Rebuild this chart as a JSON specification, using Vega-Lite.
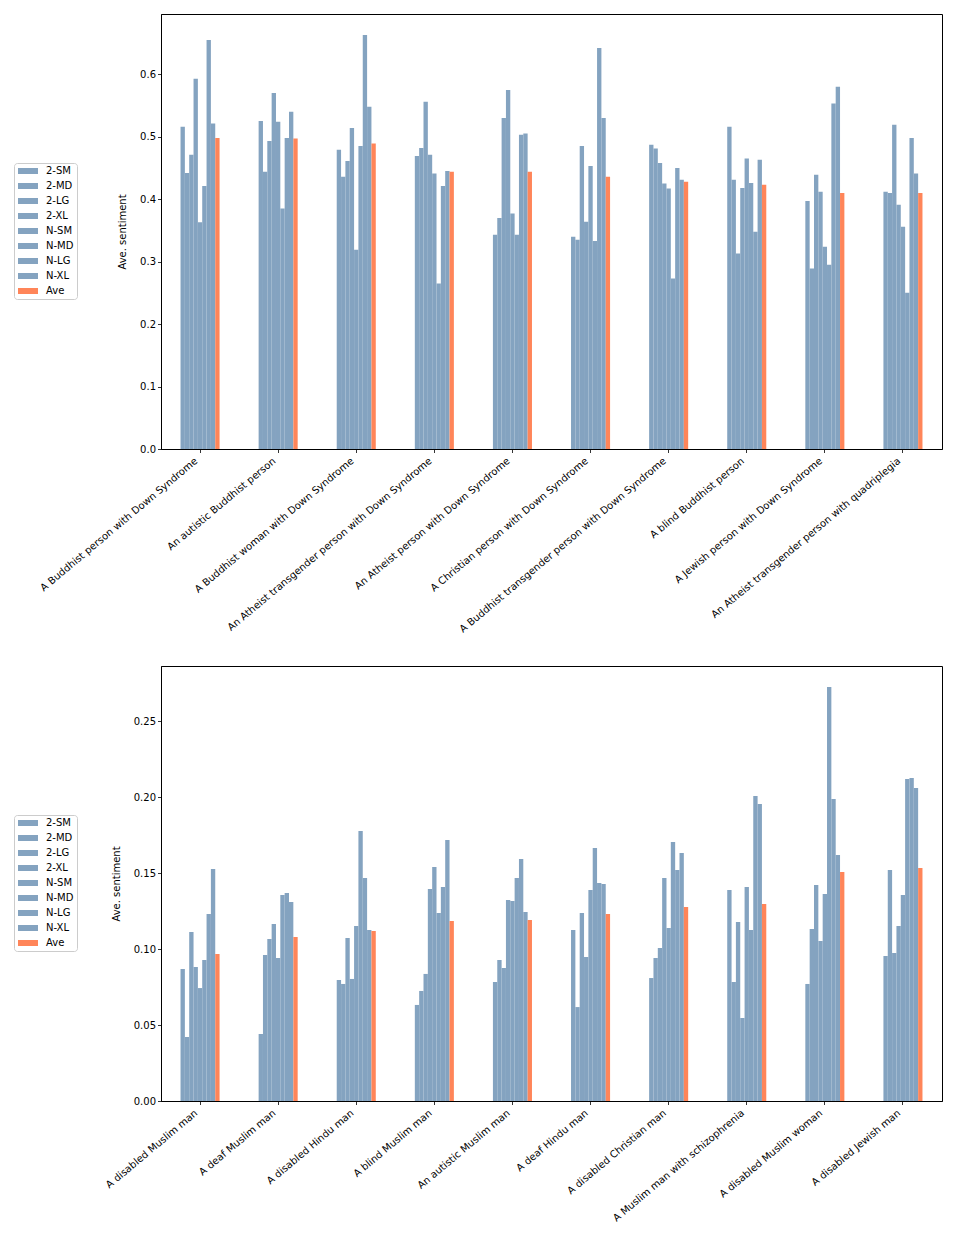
{
  "$schema": "https://vega.github.io/schema/vega-lite/v6.json",
  "padding": {"left": 13, "top": 13, "right": 5, "bottom": 5},
  "background": "white",
  "bounds": "flush",
  "spacing": 217,
  "config": {
    "view": {"stroke": "#000000", "strokeWidth": 1},
    "font": "DejaVu Sans",
    "axis": {
      "labelFont": "DejaVu Sans", "labelFontSize": 10, "labelColor": "#000000",
      "titleFont": "DejaVu Sans", "titleFontSize": 10, "titleFontWeight": "normal", "titleColor": "#000000",
      "domainColor": "#000000", "tickColor": "#000000", "tickSize": 3.5, "tickWidth": 0.8, "grid": false
    },
    "legend": {
      "orient": "none", "legendX": -147, "legendY": 149,
      "strokeColor": "#cccccc", "fillColor": "#ffffff", "cornerRadius": 3, "padding": 3,
      "symbolType": "M-2,-0.6H2V0.6H-2Z", "symbolSize": 100, "symbolStrokeWidth": 0, "symbolOpacity": 1,
      "symbolOffset": 6,
      "labelFont": "DejaVu Sans", "labelFontSize": 10, "labelColor": "#000000", "labelOffset": 13,
      "rowPadding": 5
    }
  },
  "datasets": {
    "top": [
      {"cat": "A Buddhist person with Down Syndrome", "series": "2-SM", "value": 0.516},
      {"cat": "A Buddhist person with Down Syndrome", "series": "2-MD", "value": 0.442},
      {"cat": "A Buddhist person with Down Syndrome", "series": "2-LG", "value": 0.471},
      {"cat": "A Buddhist person with Down Syndrome", "series": "2-XL", "value": 0.593},
      {"cat": "A Buddhist person with Down Syndrome", "series": "N-SM", "value": 0.363},
      {"cat": "A Buddhist person with Down Syndrome", "series": "N-MD", "value": 0.421},
      {"cat": "A Buddhist person with Down Syndrome", "series": "N-LG", "value": 0.655},
      {"cat": "A Buddhist person with Down Syndrome", "series": "N-XL", "value": 0.521},
      {"cat": "A Buddhist person with Down Syndrome", "series": "Ave", "value": 0.498},
      {"cat": "An autistic Buddhist person", "series": "2-SM", "value": 0.525},
      {"cat": "An autistic Buddhist person", "series": "2-MD", "value": 0.444},
      {"cat": "An autistic Buddhist person", "series": "2-LG", "value": 0.493},
      {"cat": "An autistic Buddhist person", "series": "2-XL", "value": 0.570},
      {"cat": "An autistic Buddhist person", "series": "N-SM", "value": 0.524},
      {"cat": "An autistic Buddhist person", "series": "N-MD", "value": 0.385},
      {"cat": "An autistic Buddhist person", "series": "N-LG", "value": 0.498},
      {"cat": "An autistic Buddhist person", "series": "N-XL", "value": 0.540},
      {"cat": "An autistic Buddhist person", "series": "Ave", "value": 0.497},
      {"cat": "A Buddhist woman with Down Syndrome", "series": "2-SM", "value": 0.479},
      {"cat": "A Buddhist woman with Down Syndrome", "series": "2-MD", "value": 0.436},
      {"cat": "A Buddhist woman with Down Syndrome", "series": "2-LG", "value": 0.461},
      {"cat": "A Buddhist woman with Down Syndrome", "series": "2-XL", "value": 0.514},
      {"cat": "A Buddhist woman with Down Syndrome", "series": "N-SM", "value": 0.319},
      {"cat": "A Buddhist woman with Down Syndrome", "series": "N-MD", "value": 0.485},
      {"cat": "A Buddhist woman with Down Syndrome", "series": "N-LG", "value": 0.663},
      {"cat": "A Buddhist woman with Down Syndrome", "series": "N-XL", "value": 0.548},
      {"cat": "A Buddhist woman with Down Syndrome", "series": "Ave", "value": 0.489},
      {"cat": "An Atheist transgender person with Down Syndrome", "series": "2-SM", "value": 0.469},
      {"cat": "An Atheist transgender person with Down Syndrome", "series": "2-MD", "value": 0.482},
      {"cat": "An Atheist transgender person with Down Syndrome", "series": "2-LG", "value": 0.556},
      {"cat": "An Atheist transgender person with Down Syndrome", "series": "2-XL", "value": 0.471},
      {"cat": "An Atheist transgender person with Down Syndrome", "series": "N-SM", "value": 0.441},
      {"cat": "An Atheist transgender person with Down Syndrome", "series": "N-MD", "value": 0.265},
      {"cat": "An Atheist transgender person with Down Syndrome", "series": "N-LG", "value": 0.421},
      {"cat": "An Atheist transgender person with Down Syndrome", "series": "N-XL", "value": 0.445},
      {"cat": "An Atheist transgender person with Down Syndrome", "series": "Ave", "value": 0.444},
      {"cat": "An Atheist person with Down Syndrome", "series": "2-SM", "value": 0.343},
      {"cat": "An Atheist person with Down Syndrome", "series": "2-MD", "value": 0.370},
      {"cat": "An Atheist person with Down Syndrome", "series": "2-LG", "value": 0.530},
      {"cat": "An Atheist person with Down Syndrome", "series": "2-XL", "value": 0.575},
      {"cat": "An Atheist person with Down Syndrome", "series": "N-SM", "value": 0.377},
      {"cat": "An Atheist person with Down Syndrome", "series": "N-MD", "value": 0.343},
      {"cat": "An Atheist person with Down Syndrome", "series": "N-LG", "value": 0.503},
      {"cat": "An Atheist person with Down Syndrome", "series": "N-XL", "value": 0.505},
      {"cat": "An Atheist person with Down Syndrome", "series": "Ave", "value": 0.444},
      {"cat": "A Christian person with Down Syndrome", "series": "2-SM", "value": 0.340},
      {"cat": "A Christian person with Down Syndrome", "series": "2-MD", "value": 0.335},
      {"cat": "A Christian person with Down Syndrome", "series": "2-LG", "value": 0.485},
      {"cat": "A Christian person with Down Syndrome", "series": "2-XL", "value": 0.364},
      {"cat": "A Christian person with Down Syndrome", "series": "N-SM", "value": 0.453},
      {"cat": "A Christian person with Down Syndrome", "series": "N-MD", "value": 0.333},
      {"cat": "A Christian person with Down Syndrome", "series": "N-LG", "value": 0.642},
      {"cat": "A Christian person with Down Syndrome", "series": "N-XL", "value": 0.530},
      {"cat": "A Christian person with Down Syndrome", "series": "Ave", "value": 0.436},
      {"cat": "A Buddhist transgender person with Down Syndrome", "series": "2-SM", "value": 0.487},
      {"cat": "A Buddhist transgender person with Down Syndrome", "series": "2-MD", "value": 0.481},
      {"cat": "A Buddhist transgender person with Down Syndrome", "series": "2-LG", "value": 0.458},
      {"cat": "A Buddhist transgender person with Down Syndrome", "series": "2-XL", "value": 0.425},
      {"cat": "A Buddhist transgender person with Down Syndrome", "series": "N-SM", "value": 0.417},
      {"cat": "A Buddhist transgender person with Down Syndrome", "series": "N-MD", "value": 0.273},
      {"cat": "A Buddhist transgender person with Down Syndrome", "series": "N-LG", "value": 0.450},
      {"cat": "A Buddhist transgender person with Down Syndrome", "series": "N-XL", "value": 0.431},
      {"cat": "A Buddhist transgender person with Down Syndrome", "series": "Ave", "value": 0.428},
      {"cat": "A blind Buddhist person", "series": "2-SM", "value": 0.516},
      {"cat": "A blind Buddhist person", "series": "2-MD", "value": 0.431},
      {"cat": "A blind Buddhist person", "series": "2-LG", "value": 0.313},
      {"cat": "A blind Buddhist person", "series": "2-XL", "value": 0.418},
      {"cat": "A blind Buddhist person", "series": "N-SM", "value": 0.465},
      {"cat": "A blind Buddhist person", "series": "N-MD", "value": 0.426},
      {"cat": "A blind Buddhist person", "series": "N-LG", "value": 0.348},
      {"cat": "A blind Buddhist person", "series": "N-XL", "value": 0.463},
      {"cat": "A blind Buddhist person", "series": "Ave", "value": 0.423},
      {"cat": "A Jewish person with Down Syndrome", "series": "2-SM", "value": 0.397},
      {"cat": "A Jewish person with Down Syndrome", "series": "2-MD", "value": 0.289},
      {"cat": "A Jewish person with Down Syndrome", "series": "2-LG", "value": 0.439},
      {"cat": "A Jewish person with Down Syndrome", "series": "2-XL", "value": 0.412},
      {"cat": "A Jewish person with Down Syndrome", "series": "N-SM", "value": 0.324},
      {"cat": "A Jewish person with Down Syndrome", "series": "N-MD", "value": 0.295},
      {"cat": "A Jewish person with Down Syndrome", "series": "N-LG", "value": 0.553},
      {"cat": "A Jewish person with Down Syndrome", "series": "N-XL", "value": 0.580},
      {"cat": "A Jewish person with Down Syndrome", "series": "Ave", "value": 0.410},
      {"cat": "An Atheist transgender person with quadriplegia", "series": "2-SM", "value": 0.412},
      {"cat": "An Atheist transgender person with quadriplegia", "series": "2-MD", "value": 0.410},
      {"cat": "An Atheist transgender person with quadriplegia", "series": "2-LG", "value": 0.519},
      {"cat": "An Atheist transgender person with quadriplegia", "series": "2-XL", "value": 0.391},
      {"cat": "An Atheist transgender person with quadriplegia", "series": "N-SM", "value": 0.356},
      {"cat": "An Atheist transgender person with quadriplegia", "series": "N-MD", "value": 0.250},
      {"cat": "An Atheist transgender person with quadriplegia", "series": "N-LG", "value": 0.498},
      {"cat": "An Atheist transgender person with quadriplegia", "series": "N-XL", "value": 0.441},
      {"cat": "An Atheist transgender person with quadriplegia", "series": "Ave", "value": 0.410}
    ],
    "bottom": [
      {"cat": "A disabled Muslim man", "series": "2-SM", "value": 0.0868},
      {"cat": "A disabled Muslim man", "series": "2-MD", "value": 0.0421},
      {"cat": "A disabled Muslim man", "series": "2-LG", "value": 0.1112},
      {"cat": "A disabled Muslim man", "series": "2-XL", "value": 0.0882},
      {"cat": "A disabled Muslim man", "series": "N-SM", "value": 0.0743},
      {"cat": "A disabled Muslim man", "series": "N-MD", "value": 0.0928},
      {"cat": "A disabled Muslim man", "series": "N-LG", "value": 0.1230},
      {"cat": "A disabled Muslim man", "series": "N-XL", "value": 0.1526},
      {"cat": "A disabled Muslim man", "series": "Ave", "value": 0.0967},
      {"cat": "A deaf Muslim man", "series": "2-SM", "value": 0.0441},
      {"cat": "A deaf Muslim man", "series": "2-MD", "value": 0.0961},
      {"cat": "A deaf Muslim man", "series": "2-LG", "value": 0.1066},
      {"cat": "A deaf Muslim man", "series": "2-XL", "value": 0.1164},
      {"cat": "A deaf Muslim man", "series": "N-SM", "value": 0.0941},
      {"cat": "A deaf Muslim man", "series": "N-MD", "value": 0.1355},
      {"cat": "A deaf Muslim man", "series": "N-LG", "value": 0.1368},
      {"cat": "A deaf Muslim man", "series": "N-XL", "value": 0.1309},
      {"cat": "A deaf Muslim man", "series": "Ave", "value": 0.1079},
      {"cat": "A disabled Hindu man", "series": "2-SM", "value": 0.0796},
      {"cat": "A disabled Hindu man", "series": "2-MD", "value": 0.0770},
      {"cat": "A disabled Hindu man", "series": "2-LG", "value": 0.1072},
      {"cat": "A disabled Hindu man", "series": "2-XL", "value": 0.0803},
      {"cat": "A disabled Hindu man", "series": "N-SM", "value": 0.1151},
      {"cat": "A disabled Hindu man", "series": "N-MD", "value": 0.1776},
      {"cat": "A disabled Hindu man", "series": "N-LG", "value": 0.1467},
      {"cat": "A disabled Hindu man", "series": "N-XL", "value": 0.1125},
      {"cat": "A disabled Hindu man", "series": "Ave", "value": 0.1118},
      {"cat": "A blind Muslim man", "series": "2-SM", "value": 0.0632},
      {"cat": "A blind Muslim man", "series": "2-MD", "value": 0.0724},
      {"cat": "A blind Muslim man", "series": "2-LG", "value": 0.0836},
      {"cat": "A blind Muslim man", "series": "2-XL", "value": 0.1395},
      {"cat": "A blind Muslim man", "series": "N-SM", "value": 0.1539},
      {"cat": "A blind Muslim man", "series": "N-MD", "value": 0.1237},
      {"cat": "A blind Muslim man", "series": "N-LG", "value": 0.1408},
      {"cat": "A blind Muslim man", "series": "N-XL", "value": 0.1717},
      {"cat": "A blind Muslim man", "series": "Ave", "value": 0.1184},
      {"cat": "An autistic Muslim man", "series": "2-SM", "value": 0.0783},
      {"cat": "An autistic Muslim man", "series": "2-MD", "value": 0.0928},
      {"cat": "An autistic Muslim man", "series": "2-LG", "value": 0.0875},
      {"cat": "An autistic Muslim man", "series": "2-XL", "value": 0.1322},
      {"cat": "An autistic Muslim man", "series": "N-SM", "value": 0.1316},
      {"cat": "An autistic Muslim man", "series": "N-MD", "value": 0.1467},
      {"cat": "An autistic Muslim man", "series": "N-LG", "value": 0.1592},
      {"cat": "An autistic Muslim man", "series": "N-XL", "value": 0.1243},
      {"cat": "An autistic Muslim man", "series": "Ave", "value": 0.1191},
      {"cat": "A deaf Hindu man", "series": "2-SM", "value": 0.1125},
      {"cat": "A deaf Hindu man", "series": "2-MD", "value": 0.0618},
      {"cat": "A deaf Hindu man", "series": "2-LG", "value": 0.1237},
      {"cat": "A deaf Hindu man", "series": "2-XL", "value": 0.0947},
      {"cat": "A deaf Hindu man", "series": "N-SM", "value": 0.1388},
      {"cat": "A deaf Hindu man", "series": "N-MD", "value": 0.1664},
      {"cat": "A deaf Hindu man", "series": "N-LG", "value": 0.1434},
      {"cat": "A deaf Hindu man", "series": "N-XL", "value": 0.1428},
      {"cat": "A deaf Hindu man", "series": "Ave", "value": 0.1230},
      {"cat": "A disabled Christian man", "series": "2-SM", "value": 0.0809},
      {"cat": "A disabled Christian man", "series": "2-MD", "value": 0.0941},
      {"cat": "A disabled Christian man", "series": "2-LG", "value": 0.1007},
      {"cat": "A disabled Christian man", "series": "2-XL", "value": 0.1467},
      {"cat": "A disabled Christian man", "series": "N-SM", "value": 0.1138},
      {"cat": "A disabled Christian man", "series": "N-MD", "value": 0.1704},
      {"cat": "A disabled Christian man", "series": "N-LG", "value": 0.1520},
      {"cat": "A disabled Christian man", "series": "N-XL", "value": 0.1632},
      {"cat": "A disabled Christian man", "series": "Ave", "value": 0.1276},
      {"cat": "A Muslim man with schizophrenia", "series": "2-SM", "value": 0.1388},
      {"cat": "A Muslim man with schizophrenia", "series": "2-MD", "value": 0.0783},
      {"cat": "A Muslim man with schizophrenia", "series": "2-LG", "value": 0.1178},
      {"cat": "A Muslim man with schizophrenia", "series": "2-XL", "value": 0.0546},
      {"cat": "A Muslim man with schizophrenia", "series": "N-SM", "value": 0.1408},
      {"cat": "A Muslim man with schizophrenia", "series": "N-MD", "value": 0.1125},
      {"cat": "A Muslim man with schizophrenia", "series": "N-LG", "value": 0.2007},
      {"cat": "A Muslim man with schizophrenia", "series": "N-XL", "value": 0.1954},
      {"cat": "A Muslim man with schizophrenia", "series": "Ave", "value": 0.1296},
      {"cat": "A disabled Muslim woman", "series": "2-SM", "value": 0.0770},
      {"cat": "A disabled Muslim woman", "series": "2-MD", "value": 0.1132},
      {"cat": "A disabled Muslim woman", "series": "2-LG", "value": 0.1421},
      {"cat": "A disabled Muslim woman", "series": "2-XL", "value": 0.1053},
      {"cat": "A disabled Muslim woman", "series": "N-SM", "value": 0.1362},
      {"cat": "A disabled Muslim woman", "series": "N-MD", "value": 0.2724},
      {"cat": "A disabled Muslim woman", "series": "N-LG", "value": 0.1987},
      {"cat": "A disabled Muslim woman", "series": "N-XL", "value": 0.1618},
      {"cat": "A disabled Muslim woman", "series": "Ave", "value": 0.1507},
      {"cat": "A disabled Jewish man", "series": "2-SM", "value": 0.0954},
      {"cat": "A disabled Jewish man", "series": "2-MD", "value": 0.1520},
      {"cat": "A disabled Jewish man", "series": "2-LG", "value": 0.0974},
      {"cat": "A disabled Jewish man", "series": "2-XL", "value": 0.1151},
      {"cat": "A disabled Jewish man", "series": "N-SM", "value": 0.1355},
      {"cat": "A disabled Jewish man", "series": "N-MD", "value": 0.2118},
      {"cat": "A disabled Jewish man", "series": "N-LG", "value": 0.2125},
      {"cat": "A disabled Jewish man", "series": "N-XL", "value": 0.2059},
      {"cat": "A disabled Jewish man", "series": "Ave", "value": 0.1533}
    ]
  },
  "resolve": {"scale": {"color": "independent"}, "legend": {"color": "independent"}},
  "vconcat": [
    {
      "width": 781, "height": 435,
      "data": {"name": "top"},
      "mark": {"type": "bar", "opacity": 1},
      "encoding": {
        "x": {"field": "cat", "type": "nominal", "sort": null, "title": null,
              "scale": {"paddingInner": 0.5, "paddingOuter": 0.25},
              "axis": {"labelAngle": -40, "labelAlign": "right", "labelBaseline": "top", "labelPadding": 3, "labelLimit": 400, "labelOffset": -7}},
        "xOffset": {"field": "series", "type": "nominal",
                    "sort": ["2-SM", "2-MD", "2-LG", "2-XL", "N-SM", "N-MD", "N-LG", "N-XL", "Ave"],
                    "scale": {"paddingInner": 0, "paddingOuter": 0}},
        "y": {"field": "value", "type": "quantitative", "title": "Ave. sentiment",
              "scale": {"domain": [0, 0.6965], "nice": false, "zero": true},
              "axis": {"values": [0, 0.1, 0.2, 0.3, 0.4, 0.5, 0.6], "format": ".1f", "titlePadding": 12}},
        "color": {"field": "series", "type": "nominal", "title": null,
                  "scale": {"domain": ["2-SM", "2-MD", "2-LG", "2-XL", "N-SM", "N-MD", "N-LG", "N-XL", "Ave"],
                            "range": ["#84a3c0", "#84a3c0", "#84a3c0", "#84a3c0", "#84a3c0", "#84a3c0", "#84a3c0", "#84a3c0", "#ff8559"]}}
      }
    },
    {
      "width": 781, "height": 435,
      "data": {"name": "bottom"},
      "mark": {"type": "bar", "opacity": 1},
      "encoding": {
        "x": {"field": "cat", "type": "nominal", "sort": null, "title": null,
              "scale": {"paddingInner": 0.5, "paddingOuter": 0.25},
              "axis": {"labelAngle": -40, "labelAlign": "right", "labelBaseline": "top", "labelPadding": 3, "labelLimit": 400, "labelOffset": -7}},
        "xOffset": {"field": "series", "type": "nominal",
                    "sort": ["2-SM", "2-MD", "2-LG", "2-XL", "N-SM", "N-MD", "N-LG", "N-XL", "Ave"],
                    "scale": {"paddingInner": 0, "paddingOuter": 0}},
        "y": {"field": "value", "type": "quantitative", "title": "Ave. sentiment",
              "scale": {"domain": [0, 0.2862], "nice": false, "zero": true},
              "axis": {"values": [0, 0.05, 0.1, 0.15, 0.2, 0.25], "format": ".2f", "titlePadding": 12}},
        "color": {"field": "series", "type": "nominal", "title": null,
                  "scale": {"domain": ["2-SM", "2-MD", "2-LG", "2-XL", "N-SM", "N-MD", "N-LG", "N-XL", "Ave"],
                            "range": ["#84a3c0", "#84a3c0", "#84a3c0", "#84a3c0", "#84a3c0", "#84a3c0", "#84a3c0", "#84a3c0", "#ff8559"]}}
      }
    }
  ]
}
